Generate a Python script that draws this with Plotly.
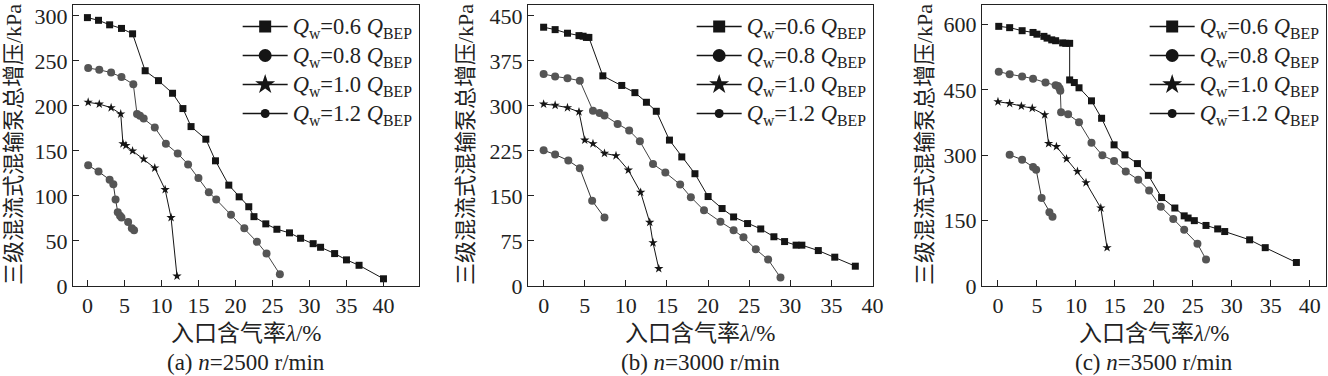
import plotly.graph_objects as go

# ---------------- data ----------------
# (a) n = 2500 r/min
a_x06 = [0, 1.5, 3.0, 4.6, 6.1, 7.8, 9.6, 11.5, 12.9, 14.0, 16.0, 17.3, 19.1, 20.5, 21.8, 22.5, 24.1, 25.6, 27.3, 28.8, 30.5, 31.5, 33.4, 35.0, 36.7, 40.0]
a_y06 = [298, 295, 290, 286, 280, 239, 228, 214, 197, 177, 163, 139, 112, 99, 88, 77, 69, 63, 59, 53, 47, 43, 36, 29, 23, 8]
a_x08 = [0.1, 1.6, 3.2, 4.6, 6.2, 6.7, 7.1, 7.6, 9.1, 10.6, 12.2, 13.6, 15.0, 16.4, 17.4, 19.4, 21.2, 22.9, 24.2, 26.0]
a_y08 = [242, 240, 237, 232, 224, 191, 189, 186, 176, 158, 147, 135, 120, 104, 96, 79, 64, 49, 36, 13]
a_x10 = [0.1, 1.6, 3.2, 4.5, 4.8, 5.2, 6.1, 7.6, 9.1, 10.5, 11.3, 12.1]
a_y10 = [204, 202, 198, 191, 158, 156, 150, 141, 131, 107, 76, 11]
a_x12 = [0.1, 1.5, 3.0, 3.5, 3.8, 4.1, 4.4, 4.6, 5.5, 6.0, 6.3]
a_y12 = [134, 127, 118, 113, 96, 82, 78, 76, 71, 64, 62]

# (b) n = 3000 r/min
b_x06 = [0, 1.4, 2.9, 4.3, 4.8, 5.2, 5.5, 7.2, 9.5, 11.1, 12.5, 13.7, 15.3, 16.8, 18.4, 20.0, 21.7, 23.1, 24.8, 26.4, 28.0, 29.3, 30.7, 31.4, 33.4, 35.4, 37.9]
b_y06 = [431, 427, 421, 417, 416, 414, 414, 350, 334, 322, 306, 291, 243, 215, 187, 149, 129, 115, 104, 95, 82, 74, 68, 68, 59, 48, 33]
b_x08 = [0, 1.4, 2.9, 4.4, 6.0, 6.8, 7.4, 9.0, 10.4, 11.7, 13.3, 14.8, 16.6, 17.9, 19.5, 21.5, 23.1, 24.3, 25.8, 27.3, 28.8]
b_y08 = [353, 349, 346, 342, 292, 288, 284, 270, 259, 241, 203, 189, 169, 148, 126, 107, 93, 81, 61, 44, 14]
b_x10 = [0, 1.4, 2.9, 4.3, 5.0, 6.0, 7.4, 8.8, 10.3, 11.8, 12.9, 13.3, 14.0]
b_y10 = [303, 301, 297, 290, 243, 237, 221, 217, 193, 156, 106, 72, 29]
b_x12 = [0, 1.4, 3.0, 4.4, 5.9, 7.4]
b_y12 = [226, 219, 209, 196, 142, 114]

# (c) n = 3500 r/min
c_x06 = [0.1, 1.5, 3.1, 4.5, 5.0, 5.9, 6.3, 6.9, 7.4, 8.3, 8.7, 9.2, 9.2, 9.8, 10.4, 12.0, 13.3, 14.9, 16.3, 17.9, 19.3, 21.0, 22.7, 23.9, 24.4, 25.2, 26.7, 28.2, 29.1, 32.3, 34.3, 38.3]
c_y06 = [596, 593, 586, 582, 578, 573, 569, 565, 563, 558, 557, 557, 473, 467, 455, 425, 385, 324, 301, 281, 254, 203, 179, 161, 156, 150, 139, 131, 125, 106, 88, 54]
c_x08 = [0.1, 1.5, 3.1, 4.5, 6.1, 7.4, 7.7, 7.9, 8.0, 8.1, 9.0, 10.4, 12.0, 13.4, 14.9, 16.4, 18.0, 19.4, 20.9, 22.5, 23.9, 25.6, 26.7]
c_y08 = [492, 486, 481, 476, 467, 461, 459, 454, 448, 399, 394, 376, 329, 300, 287, 263, 244, 219, 182, 154, 129, 97, 61]
c_x10 = [0, 1.5, 3.0, 4.4, 6.0, 6.5, 7.5, 8.8, 10.2, 11.3, 13.2, 14.0]
c_y10 = [423, 419, 413, 408, 393, 327, 320, 292, 263, 237, 179, 88]
c_x12 = [1.5, 3.1, 4.5, 4.9, 5.6, 6.6, 7.0]
c_y12 = [301, 290, 273, 267, 202, 169, 159]

series_names = ["0.6", "0.8", "1.0", "1.2"]
panel_labels = ["(a) <i>n</i>=2500 r/min", "(b) <i>n</i>=3000 r/min", "(c) <i>n</i>=3500 r/min"]
x_ticks = [list(range(0, 50, 5)), list(range(0, 45, 5)), list(range(0, 45, 5))]
y_ticks = [list(range(0, 301, 50)), list(range(0, 451, 75)), list(range(0, 601, 150))]
x_ranges = [[-1.95, 44.8], [-1.9, 40.05], [-2.05, 42.1]]
y_ranges = [[0, 312], [0, 468], [0, 645]]

panels = [
    [(a_x06, a_y06), (a_x08, a_y08), (a_x10, a_y10), (a_x12, a_y12)],
    [(b_x06, b_y06), (b_x08, b_y08), (b_x10, b_y10), (b_x12, b_y12)],
    [(c_x06, c_y06), (c_x08, c_y08), (c_x10, c_y10), (c_x12, c_y12)],
]

# ---------------- styles ----------------
W, H = 1328, 376
x_domains_px = [(73, 419), (528, 873), (982, 1326)]
y_dom = [1 - 286 / H, 1 - 5 / H]
ytitle_x_px = [13, 465, 924]

black = "#151515"
gray = "#555555"
marker_symbols = ["square", "circle", "star", "circle"]
marker_sizes = [7, 8, 7, 8]
legend_sizes = [12, 13, 15, 9]
marker_colors = [black, gray, black, gray]
line_colors = [black, "#444444", black, "#333333"]

serif = "Liberation Serif, Times New Roman, serif"
mixed = "Liberation Serif, Noto Sans CJK SC, serif"

fig = go.Figure()
legend_names = ["legend", "legend2", "legend3"]

for p, data in enumerate(panels):
    xa = "x" if p == 0 else f"x{p+1}"
    ya = "y" if p == 0 else f"y{p+1}"
    for s, (xs, ys) in enumerate(data):
        fig.add_trace(go.Scatter(
            x=xs, y=ys, mode="lines+markers", xaxis=xa, yaxis=ya,
            line=dict(color=line_colors[s], width=1),
            marker=dict(symbol=marker_symbols[s], size=marker_sizes[s], color=marker_colors[s]),
            showlegend=False, hoverinfo="x+y",
        ))
    for s in range(4):
        fig.add_trace(go.Scatter(
            x=[None], y=[None], mode="lines+markers", xaxis=xa, yaxis=ya,
            line=dict(color=black, width=1.6),
            marker=dict(symbol=marker_symbols[s], size=legend_sizes[s], color=black),
            name='<span style="font-size:22.5px"><i>Q</i><sub>w</sub>=' + series_names[s]
                 + " <i>Q</i><sub>BEP</sub></span>",
            legend=legend_names[p], showlegend=True,
        ))

layout = dict(
    width=W, height=H,
    margin=dict(l=0, r=0, t=0, b=0, autoexpand=False),
    paper_bgcolor="white", plot_bgcolor="white",
    font=dict(family=serif, size=20, color="#222222"),
    showlegend=True,
)

axis_common = dict(
    showline=True, linecolor="#222222", linewidth=1, mirror=True,
    ticks="inside", ticklen=6, tickwidth=1, tickcolor="#222222",
    showgrid=False, zeroline=False, automargin=False,
    tickfont=dict(family=serif, size=22, color="#222222"),
)

annotations = []
for p in range(3):
    sfx = "" if p == 0 else str(p + 1)
    x0, x1 = x_domains_px[p]
    layout["xaxis" + sfx] = dict(
        axis_common, domain=[x0 / W, x1 / W], range=x_ranges[p],
        tickvals=x_ticks[p], anchor="y" + sfx,
    )
    layout["yaxis" + sfx] = dict(
        axis_common, domain=y_dom, range=y_ranges[p],
        tickvals=y_ticks[p], anchor="x" + sfx,
    )
    layout[legend_names[p]] = dict(
        x=x1 / W - 0.001, xanchor="right", y=1 - 7 / H, yanchor="top",
        xref="paper", yref="paper",
        bgcolor="rgba(0,0,0,0)", borderwidth=0,
        font=dict(family=serif, size=20, color="#222222"),
        itemwidth=45, traceorder="normal",
    )
    cx = (x0 + x1) / 2 / W
    annotations.append(dict(
        text="入口含气率<i>λ</i>/%", x=cx, y=1 - 333 / H, xref="paper", yref="paper",
        showarrow=False, xanchor="center", yanchor="middle",
        font=dict(family=mixed, size=23, color="#222222"),
    ))
    annotations.append(dict(
        text=panel_labels[p], x=cx, y=1 - 362 / H, xref="paper", yref="paper",
        showarrow=False, xanchor="center", yanchor="middle",
        font=dict(family=serif, size=23, color="#222222"),
    ))
    annotations.append(dict(
        text="三级混流式混输泵总增压/kPa", x=ytitle_x_px[p] / W, y=1 - 145 / H,
        xref="paper", yref="paper", textangle=-90,
        showarrow=False, xanchor="center", yanchor="middle",
        font=dict(family=mixed, size=22, color="#222222"),
    ))

layout["annotations"] = annotations
fig.update_layout(**layout)

fig.write_html(
    "out.html",
    config={"displayModeBar": False},
    post_script="document.body.style.margin='0';document.body.style.overflow='hidden';",
)
